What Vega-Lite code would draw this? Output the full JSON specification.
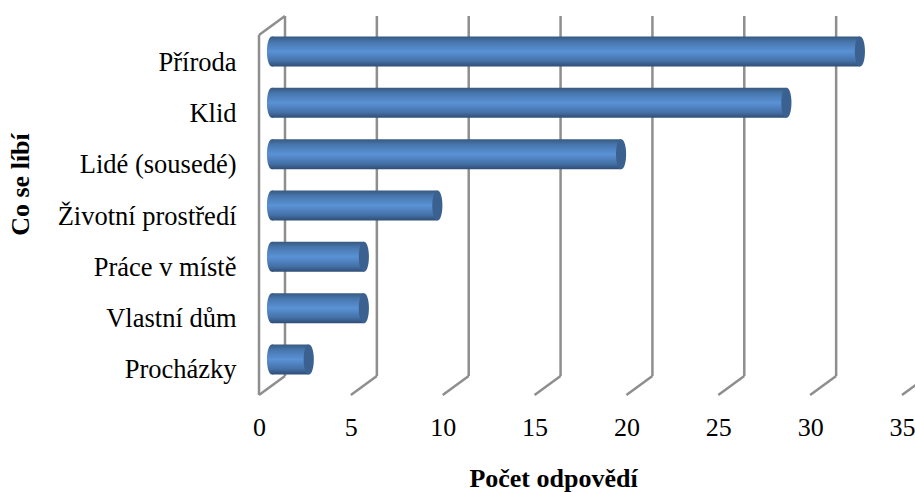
{
"$schema":"https://vega.github.io/schema/vega-lite/v6.json",
"width":643,"height":379,
"autosize":{"type":"none"},
"padding":{"left":259,"top":16,"right":13,"bottom":97},
"background":"white",
"config":{"view":{"stroke":null},"font":"Liberation Serif"},
"datasets":{
"grid":[
{"x":0,"x2":0,"y":0,"y2":360},
{"x":0,"x2":1.415,"y":360,"y2":379},
{"x":1.415,"x2":1.415,"y":19,"y2":379},
{"x":0,"x2":1.415,"y":0,"y2":19},
{"x":5,"x2":6.415,"y":0,"y2":19},
{"x":10,"x2":11.415,"y":0,"y2":19},
{"x":15,"x2":16.415,"y":0,"y2":19},
{"x":20,"x2":21.415,"y":0,"y2":19},
{"x":25,"x2":26.415,"y":0,"y2":19},
{"x":30,"x2":31.415,"y":0,"y2":19},
{"x":35,"x2":36.415,"y":0,"y2":19},
{"x":6.415,"x2":6.415,"y":19,"y2":379},
{"x":11.415,"x2":11.415,"y":19,"y2":379},
{"x":16.415,"x2":16.415,"y":19,"y2":379},
{"x":21.415,"x2":21.415,"y":19,"y2":379},
{"x":26.415,"x2":26.415,"y":19,"y2":379},
{"x":31.415,"x2":31.415,"y":19,"y2":379}
],
"bars":[
{"co":"Příroda","pocet":32},
{"co":"Klid","pocet":28},
{"co":"Lidé (sousedé)","pocet":19},
{"co":"Životní prostředí","pocet":9},
{"co":"Práce v místě","pocet":5},
{"co":"Vlastní dům","pocet":5},
{"co":"Procházky","pocet":2}
]},
"layer":[
{"data":{"name":"grid"},
 "mark":{"type":"rule","color":"#8e8e8e","strokeWidth":2.5},
 "encoding":{
  "x":{"field":"x","type":"quantitative","scale":{"domain":[0,35],"nice":false},
   "axis":{"title":"Počet odpovědí","values":[0,5,10,15,20,25,30,35],"format":"d","grid":false,"domain":false,"ticks":false,"labelPadding":19,"labelFontSize":26,"labelColor":"#000","labelFont":"Liberation Serif","titleFont":"Liberation Serif","titleFontSize":26,"titleFontWeight":"bold","titleColor":"#000","titleX":294,"titlePadding":25,"labelOverlap":false,"labelFlush":false}},
  "x2":{"field":"x2"},
  "y":{"field":"y","type":"quantitative","scale":{"domain":[0,379],"nice":false},"axis":null},
  "y2":{"field":"y2"}
 }},
{"data":{"name":"bars"},
 "layer":[
 {"mark":{"type":"point","filled":true,"opacity":1,"size":900,"xOffset":13,"shape":"M0,-1 C-0.45,-1 -0.45,1 0,1 C0.45,1 0.45,-1 0,-1 Z",
   "fill":{"gradient":"linear","x1":0,"y1":0,"x2":0,"y2":1,"stops":[{"offset":0,"color":"#37597f"},{"offset":0.18,"color":"#4776ad"},{"offset":0.5,"color":"#5a92d6"},{"offset":0.82,"color":"#4470a6"},{"offset":1,"color":"#2f4d75"}]}},
  "encoding":{"x":{"datum":0,"type":"quantitative"}}},
 {"mark":{"type":"bar","xOffset":13,
   "fill":{"gradient":"linear","x1":0,"y1":0,"x2":0,"y2":1,"stops":[{"offset":0,"color":"#37597f"},{"offset":0.18,"color":"#4776ad"},{"offset":0.5,"color":"#5a92d6"},{"offset":0.82,"color":"#4470a6"},{"offset":1,"color":"#2f4d75"}]}},
  "encoding":{"x":{"field":"pocet","type":"quantitative"}}},
 {"mark":{"type":"point","filled":true,"opacity":1,"size":900,"xOffset":13,"shape":"M0,-1 C-0.45,-1 -0.45,1 0,1 C0.45,1 0.45,-1 0,-1 Z","fill":"#3a618f"},
  "encoding":{"x":{"field":"pocet","type":"quantitative"}}}
 ],
 "encoding":{
  "y":{"field":"co","type":"nominal","sort":null,
   "scale":{"paddingInner":0.415,"paddingOuter":0.4},
   "axis":{"title":"Co se líbí","domain":false,"ticks":false,"grid":false,"labelPadding":23,"labelOffset":11,"labelFontSize":26.5,"labelColor":"#000","labelFont":"Liberation Serif","labelLimit":300,"titleFont":"Liberation Serif","titleFontSize":26,"titleFontWeight":"bold","titleColor":"#000","titleY":168,"titlePadding":26}}
 }}
],
"resolve":{"scale":{"y":"independent"}}
}
